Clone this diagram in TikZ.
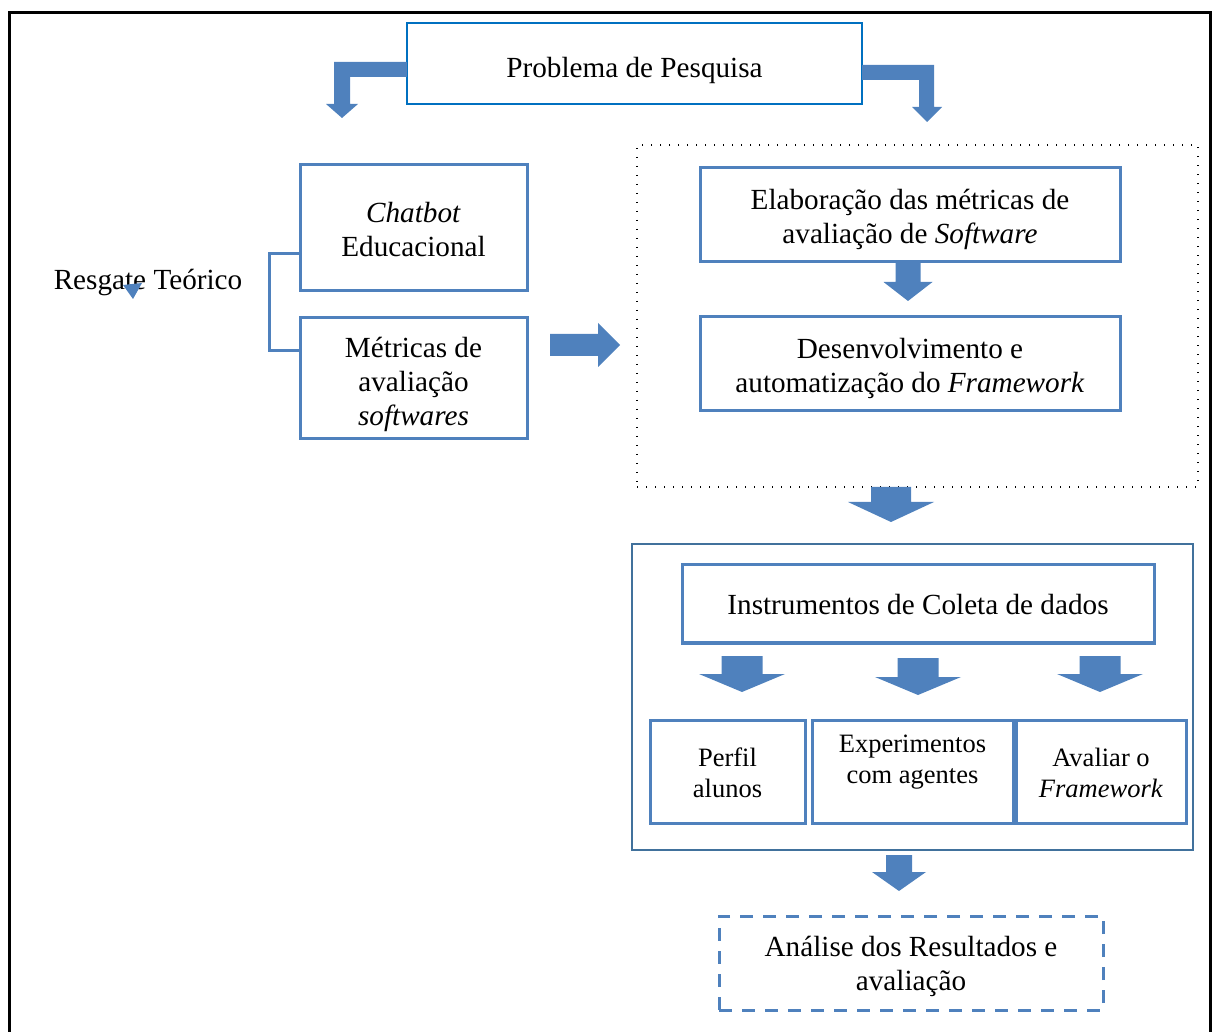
\documentclass[tikz,border=0pt]{standalone}
\usepackage{fontspec}
\setmainfont{Liberation Serif}
\usepackage{tikz}
\usetikzlibrary{positioning,calc}
\definecolor{boxblue}{HTML}{4F81BD}
\definecolor{probblue}{HTML}{0070C0}
\definecolor{contblue}{HTML}{41719C}
% block arrow pointing down: x centre, y top, y neck, y tip, shaft half, head half
\newcommand{\downblock}[6]{%
  \fill[boxblue] (#1-#5,#2) -- (#1+#5,#2) -- (#1+#5,#3) -- (#1+#6,#3) -- (#1,#4)
    -- (#1-#6,#3) -- (#1-#5,#3) -- cycle;}

\begin{document}
\begin{tikzpicture}[
  x=0.5pt,y=-0.5pt,
  every node/.style={font=\fontsize{14.6}{17}\selectfont,align=center,inner sep=0pt,outer sep=0pt},
  probbox/.style={draw=probblue,line width=0.8pt,minimum width=227.5pt,minimum height=40.5pt},
  box/.style={draw=boxblue,line width=1.5pt},
  subbox/.style={box,minimum height=51.5pt},
  small/.style={font=\fontsize{13.25}{15.5}\selectfont},
  contbox/.style={draw=contblue,line width=1pt,minimum width=280.5pt,minimum height=153pt},
  dotbox/.style={draw=black,line width=0.7pt,dash pattern=on 0.7pt off 3.8pt,minimum width=280.5pt,minimum height=171pt},
  resbox/.style={draw=boxblue,line width=1.5pt,dash pattern=on 6.5pt off 5pt,minimum width=192pt,minimum height=47pt},
  link/.style={draw=boxblue,line width=1.5pt}
]
\useasboundingbox (0,0) rectangle (1212,1032);
% outer frame, open at the bottom
\draw[line width=1.5pt] (9,1032) -- (9,13) -- (1210,13) -- (1210,1032);

% groups
\node[dotbox] (fase) at (917.5,316) {};
\node[contbox] (coleta) at (912.5,697) {};

% top
\node[probbox,label={[yshift=-3.5pt]center:Problema de Pesquisa}] (prob) at (634.5,63.5) {};
\fill[boxblue] (prob.west |- 0,62) -- (334,62) -- (334,104) -- (326,104) -- (342,118)
  -- (358,104) -- (350,104) -- (350,77) -- (prob.west |- 0,77) -- cycle;
\fill[boxblue] (prob.east |- 0,65) -- (934,65) -- (934,107) -- (942,107) -- (927,122)
  -- (912,107) -- (919,107) -- (919,80) -- (prob.east |- 0,80) -- cycle;

% left column
\node (resgate) at (148,283) {Resgate Teórico};
\fill[boxblue] (123,285) -- (142,283) -- (133,299) -- cycle;
\node[box,minimum width=113.5pt,minimum height=63pt,
  label={[yshift=-1pt]center:{\textit{Chatbot}\\Educacional}}] (chat) at (413.5,228) {};
\node[box,minimum width=113.5pt,minimum height=60.5pt,below=13.5pt of chat,
  label={[yshift=-3pt]center:{Métricas de\\avaliação\\\textit{softwares}}}] (metr) {};
\draw[link] ($(chat.west)+(0,26)$) -- ++(-31,0) |- ($(metr.west)+(0,-28)$);
\fill[boxblue] (550,334) -- (598,334) -- (598,323) -- (620,345) -- (598,367) -- (598,356) -- (550,356) -- cycle;

% right column
\node[box,minimum width=210pt,minimum height=47pt,
  label={[yshift=-2pt]center:{Elaboração das métricas de\\avaliação de \textit{Software}}}] (elab) at (910,215) {};
\node[box,minimum width=210pt,minimum height=47pt,below=27.5pt of elab,
  label={[yshift=-2pt]center:{Desenvolvimento e\\automatização do \textit{Framework}}}] (desen) {};
\downblock{908}{263}{282}{301}{12.5}{24.5}
\downblock{891}{487}{502}{522}{20}{43}

\node[box,minimum width=236pt,minimum height=39pt,
  label={[yshift=-0.5pt]center:Instrumentos de Coleta de dados}] (instr) at (918,604) {};
\downblock{742}{656}{674}{692}{20.5}{43}
\downblock{918}{658}{677}{695}{20.5}{43}
\downblock{1100}{656}{674}{692}{20.5}{43}
\node[subbox,minimum width=77.5pt,
  label={[small,yshift=-0.5pt]center:{Perfil\\alunos}}] (perfil) at (727.5,771.5) {};
\node[subbox,minimum width=100.5pt,right=3.5pt of perfil,
  label={[small,yshift=4.5pt]center:{Experimentos\\com agentes}}] (exper) {};
\node[subbox,minimum width=85pt,right=1.5pt of exper,
  label={[small,yshift=-0.5pt]center:{Avaliar o\\\textit{Framework}}}] (aval) {};

\downblock{899}{855}{872}{891}{13}{27}
\node[resbox,label={[yshift=-1.5pt]center:{Análise dos Resultados e\\avaliação}}] (analise) at (911,963) {};
\end{tikzpicture}
\end{document}
